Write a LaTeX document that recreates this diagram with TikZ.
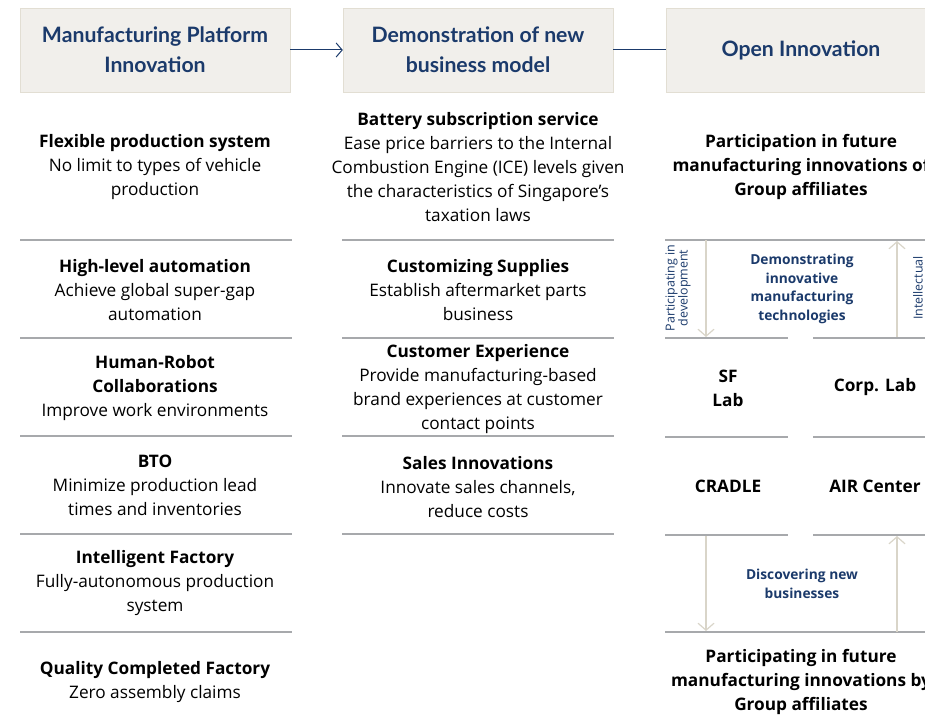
\documentclass[tikz,border=0pt]{standalone}
\usepackage{fontspec}
\setmainfont{Open Sans}
\newfontfamily\headfont{Lato}
\usetikzlibrary{arrows.meta}
\definecolor{navy}{HTML}{1B3A6B}
\definecolor{headfill}{HTML}{F1EFEB}
\definecolor{headline}{HTML}{E2DED3}
\definecolor{rulegray}{HTML}{A7A9AC}
\definecolor{beige}{HTML}{D9D5C9}

\begin{document}
\begin{tikzpicture}[x = 1bp, y = -1bp,
    headbox/.style = {draw = headline, fill = headfill, minimum width = 270bp, minimum height = 84bp, text = navy, align = center, inner sep = 0pt, font = \headfont\fontsize{21.3}{30}\selectfont\bfseries},
    item/.style = {align = center, inner sep = 0pt, font = \fontsize{17.3}{24}\selectfont},
    lab/.style = {align = center, inner sep = 0pt, font = \fontsize{17.3}{24}\selectfont\bfseries},
    note/.style = {align = center, inner sep = 0pt, text = navy, font = \fontsize{13.8}{18.5}\selectfont\bfseries},
    side/.style = {align = center, inner sep = 0pt, text = navy, rotate = 90, font = \fontsize{12.5}{13}\selectfont},
    sep/.style = {draw = rulegray, line width = 1.2bp},
    flow/.style = {draw = beige, line width = 1.2bp, -{Straight Barb[length = 7bp, width = 16bp]}}]
    \useasboundingbox (0, 0) rectangle (925, 724);
    \clip (0, 0) rectangle (925, 724);

    % headers
    \node [headbox] (mfg) at (155, 50) {Manufacturing Platform\\Innovation};
    \node [headbox] (demo) at (478, 50) {Demonstration of new\\business model};
    \node [headbox] (openinno) at (801, 50) {Open Innovation};
    \draw [navy, line width = 1bp, -{Straight Barb[length = 6bp, width = 14bp]}] (mfg) -- (demo);
    \draw [navy, line width = 1bp] (demo) -- (openinno);

    % first column
    \node [item] (flex) at (155, 167) {\textbf{Flexible production system}\\No limit to types of vehicle\\production};
    \node [item] (hiauto) at (155, 290) {\textbf{High-level automation}\\Achieve global super-gap\\automation};
    \node [item] (robot) at (155, 388) {\textbf{Human-Robot}\\\textbf{Collaborations}\\Improve work environments};
    \node [item] (bto) at (155, 485) {\textbf{BTO}\\Minimize production lead\\times and inventories};
    \node [item] (smart) at (155, 583) {\textbf{Intelligent Factory}\\Fully-autonomous production\\system};
    \node [item] (quality) at (155, 682) {\textbf{Quality Completed Factory}\\Zero assembly claims};
    \foreach \y in {240, 338, 436, 534, 632}
        \draw [sep] (20, \y) -- (292, \y);

    % second column
    \node [item] (battery) at (478, 167) {\textbf{Battery subscription service}\\Ease price barriers to the Internal\\Combustion Engine (ICE) levels given\\the characteristics of Singapore’s\\taxation laws};
    \node [item] (supply) at (478, 290) {\textbf{Customizing Supplies}\\Establish aftermarket parts\\business};
    \node [item] (custexp) at (478, 389) {\textbf{Customer Experience}\\Provide manufacturing-based\\brand experiences at customer\\contact points};
    \node [item] (sales) at (478, 487) {\textbf{Sales Innovations}\\Innovate sales channels,\\reduce costs};
    \foreach \y in {240, 338, 436, 534}
        \draw [sep] (342, \y) -- (614, \y);

    % third column
    \node [lab] (futureof) at (801, 167) {Participation in future\\manufacturing innovations of\\Group affiliates};
    \node [note] (demotech) at (802, 289) {Demonstrating\\innovative\\manufacturing\\technologies};
    \node [side] (partdev) at (678, 288) {Participating in\\development};
    \node [side] (intel) at (918, 288) {Intellectual};
    \node [lab] (sflab) at (728, 388) {SF\\Lab};
    \node [lab] (corplab) at (875, 387) {Corp. Lab};
    \node [lab] (cradle) at (728, 486) {CRADLE};
    \node [lab] (air) at (875, 486) {AIR Center};
    \node [note] (discover) at (802, 584) {Discovering new\\businesses};
    \node [lab] (futureby) at (801, 682) {Participating in future\\manufacturing innovations by\\Group affiliates};
    \draw [sep] (665, 240) -- (925, 240);
    \foreach \y in {338, 437, 535} {
        \draw [sep] (665, \y) -- (788, \y);
        \draw [sep] (813, \y) -- (925, \y);
    }
    \draw [sep] (665, 632) -- (925, 632);

    \coordinate (devtop) at (706, 240);
    \coordinate (devbot) at (706, 337);
    \coordinate (ipbot) at (897, 337);
    \coordinate (iptop) at (897, 241);
    \coordinate (bizleft) at (706, 536);
    \coordinate (bizleftend) at (706, 631);
    \coordinate (bizright) at (897, 632);
    \coordinate (bizrightend) at (897, 536);
    \draw [flow] (devtop) -- (devbot);
    \draw [flow] (ipbot) -- (iptop);
    \draw [flow] (bizleft) -- (bizleftend);
    \draw [flow] (bizright) -- (bizrightend);
\end{tikzpicture}
\end{document}
